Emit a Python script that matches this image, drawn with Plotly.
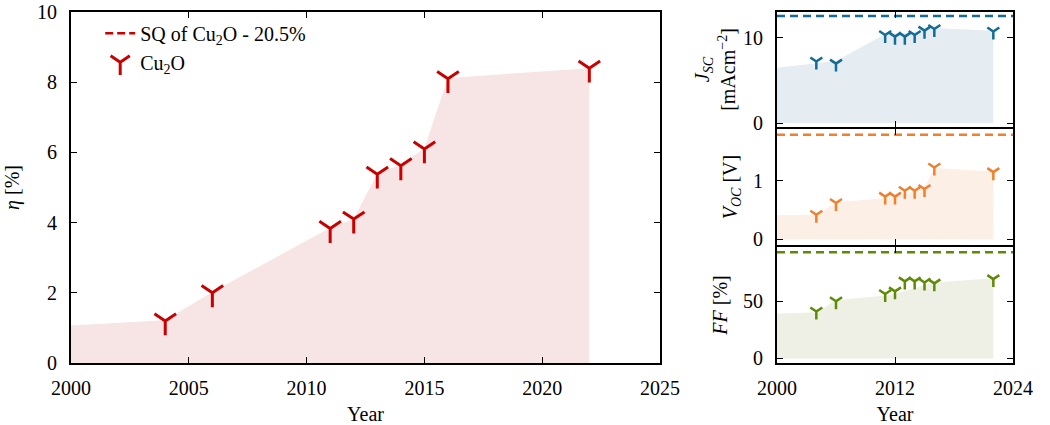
import plotly.graph_objects as go

# ---------------- data ----------------
years = [2004, 2006, 2011, 2012, 2013, 2014, 2015, 2016, 2022]
eta = [1.2, 2.0, 3.83, 4.1, 5.38, 5.62, 6.1, 8.1, 8.4]
fill_years = [2000, 2004, 2006, 2011, 2012, 2013, 2014, 2015, 2016, 2022]
eta_fill = [1.07, 1.22, 2.02, 3.85, 4.1, 5.4, 5.65, 6.12, 8.12, 8.4]
sq_eta = 20.5

jsc = [7.2, 6.95, 10.3, 10.1, 10.1, 10.3, 10.8, 11.0, 10.7]
jsc_fill = [6.45, 7.0, 7.25, 10.4, 10.45, 10.5, 10.6, 10.9, 11.1, 10.8]
sq_jsc = 12.5

voc = [0.42, 0.62, 0.73, 0.73, 0.83, 0.83, 0.86, 1.23, 1.15]
voc_fill = [0.41, 0.42, 0.63, 0.7, 0.72, 0.78, 0.84, 0.89, 1.22, 1.16]
sq_voc = 1.79

ff = [41, 50, 56.4, 58.7, 67.4, 67.4, 66.5, 65.7, 69.4]
ff_fill = [39, 40.5, 51, 55, 56.5, 59, 62, 64.5, 66.5, 70.2]
sq_ff = 93

left_xticks = [2000, 2005, 2010, 2015, 2020, 2025]
left_yticks = [0, 2, 4, 6, 8, 10]
right_xticks = [2000, 2012, 2024]

# ---------------- style ----------------
FONT = "Liberation Serif"
FS = 20
red, red_fill = "#C80000", "#F7E4E4"
blue, blue_fill = "#136B96", "#E5EDF3"
orange, orange_fill = "#F07F2E", "#FCEFE6"
green, green_fill = "#5E8A06", "#EEF0E6"

fig = go.Figure()

# left panel
fig.add_trace(go.Scatter(x=fill_years, y=eta_fill, fill="tozeroy", mode="lines",
                         line=dict(width=0), fillcolor=red_fill, showlegend=False,
                         hoverinfo="skip", xaxis="x", yaxis="y"))
fig.add_trace(go.Scatter(x=[left_xticks[0], left_xticks[-1]], y=[sq_eta, sq_eta], mode="lines",
                         line=dict(color=red, width=2.5, dash="8px,4px"),
                         name="SQ of Cu<sub>2</sub>O - 20.5%", xaxis="x", yaxis="y"))
fig.add_trace(go.Scatter(x=years, y=eta, mode="markers", name="Cu<sub>2</sub>O",
                         marker=dict(symbol="y-down", size=18, color=red,
                                     line=dict(color=red, width=3)),
                         xaxis="x", yaxis="y"))

panels = [
    ("x2", "y2", jsc, jsc_fill, sq_jsc, blue, blue_fill),
    ("x3", "y3", voc, voc_fill, sq_voc, orange, orange_fill),
    ("x4", "y4", ff, ff_fill, sq_ff, green, green_fill),
]
for xa, ya, vals, fvals, sq, col, fcol in panels:
    fig.add_trace(go.Scatter(x=fill_years, y=fvals, fill="tozeroy", mode="lines",
                             line=dict(width=0), fillcolor=fcol, showlegend=False,
                             hoverinfo="skip", xaxis=xa, yaxis=ya))
    fig.add_trace(go.Scatter(x=[right_xticks[0], right_xticks[-1]], y=[sq, sq], mode="lines",
                             line=dict(color=col, width=2.5, dash="8px,5px"),
                             showlegend=False, xaxis=xa, yaxis=ya))
    fig.add_trace(go.Scatter(x=years, y=vals, mode="markers", showlegend=False,
                             marker=dict(symbol="y-down", size=10, color=col,
                                         line=dict(color=col, width=2.5)),
                             xaxis=xa, yaxis=ya))

axis_common = dict(showline=True, linecolor="black", linewidth=2, mirror="ticks",
                   ticks="inside", ticklen=6, tickwidth=1.3, tickcolor="black",
                   showgrid=False, zeroline=False, automargin=False,
                   tickfont=dict(family=FONT, size=FS, color="black"))

W, H = 1050, 425
L, R, T, B = 71, 37, 12, 62
PH = H - T - B

def ydom(top_px, bot_px):
    return [(H - B - bot_px) / PH, (H - B - top_px) / PH]

right_dom = [(777 - L) / (W - L - R), 1.0]
left_dom = [0.0, (660 - L) / (W - L - R)]

fig.update_layout(
    width=W, height=H,
    margin=dict(l=L, r=R, t=T, b=B, pad=0),
    paper_bgcolor="white", plot_bgcolor="white",
    font=dict(family=FONT, size=FS, color="black"),
    xaxis=dict(**axis_common, domain=left_dom, range=[2000, 2025], tickvals=left_xticks,
               ticklabelstandoff=6, anchor="y",
               title=dict(text="Year", font=dict(family=FONT, size=FS), standoff=12)),
    yaxis=dict(**axis_common, domain=[0, 1], range=[0, 10], tickvals=left_yticks,
               ticklabelstandoff=8, anchor="x",
               title=dict(text="<i>η</i> [%]", font=dict(family=FONT, size=FS), standoff=12)),
    xaxis2=dict(**axis_common, domain=right_dom, range=[2000, 2024], tickvals=right_xticks,
                showticklabels=False, anchor="y2"),
    yaxis2=dict(**axis_common, domain=ydom(12, 127), range=[-0.46, 12.98], tickvals=[0, 10],
                ticklabelstandoff=8, anchor="x2",
                title=dict(text="<i>J<sub>SC</sub></i><br>[mAcm<sup>−2</sup>]",
                           font=dict(family=FONT, size=FS), standoff=2)),
    xaxis3=dict(**axis_common, domain=right_dom, range=[2000, 2024], tickvals=right_xticks,
                showticklabels=False, anchor="y3"),
    yaxis3=dict(**axis_common, domain=ydom(129, 245), range=[-0.10, 1.89], tickvals=[0, 1],
                ticklabelstandoff=8, anchor="x3",
                title=dict(text="<i>V<sub>OC</sub></i> [V]",
                           font=dict(family=FONT, size=FS), standoff=10)),
    xaxis4=dict(**axis_common, domain=right_dom, range=[2000, 2024], tickvals=right_xticks,
                ticklabelstandoff=6, anchor="y4",
                title=dict(text="Year", font=dict(family=FONT, size=FS), standoff=12)),
    yaxis4=dict(**axis_common, domain=ydom(247, 363), range=[-4, 97.5], tickvals=[0, 50],
                ticklabelstandoff=8, anchor="x4",
                title=dict(text="<i>FF</i> [%]", font=dict(family=FONT, size=FS), standoff=10)),
    legend=dict(x=0.031, y=0.995, xanchor="left", yanchor="top",
                bgcolor="rgba(0,0,0,0)", borderwidth=0,
                font=dict(family=FONT, size=FS), tracegroupgap=0, itemwidth=30),
    showlegend=True,
)

fig.write_html("out.html")
